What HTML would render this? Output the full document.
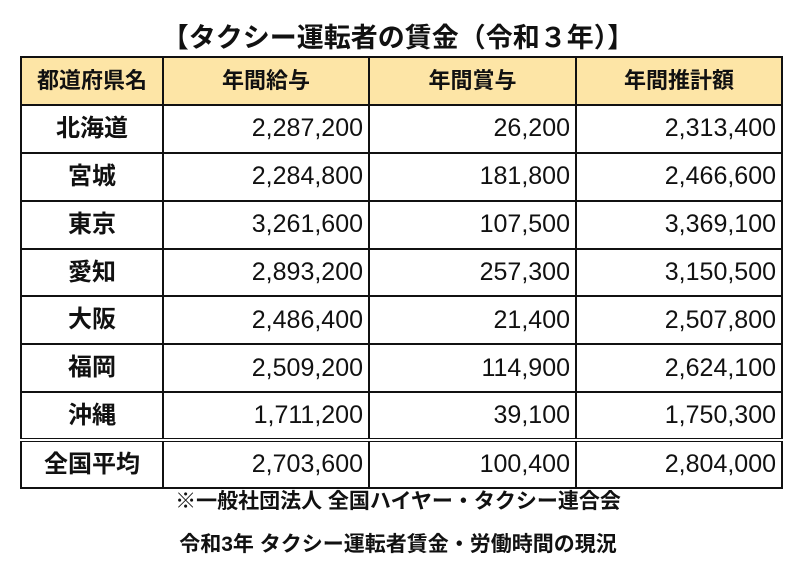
<!DOCTYPE html>
<html><head><meta charset="utf-8"><style>
body{margin:0;width:800px;height:564px;background:#fff;font-family:"Liberation Sans","Noto Sans CJK JP",sans-serif;color:#111;position:relative;overflow:hidden}
.t{position:absolute;left:0;width:800px;text-align:center;font-weight:bold;white-space:nowrap}
table{position:absolute;left:20px;top:56px;border-collapse:collapse;width:761px;height:431px;table-layout:fixed}
tr{height:47.9px}
td{border:2px solid #111;padding:0 5px 0 0;font-size:25px;text-align:right;line-height:1}
td:first-child{text-align:center;font-weight:bold;padding:0;font-size:24px}
tr.h td{background:#fde5a6;text-align:center;font-weight:bold;font-size:22px;padding:0}
tr.last td{border-top:4px double #111}
</style></head><body>
<div class="t" style="top:16px;font-size:27px;left:-2px">【タクシー運転者の賃金（令和３年）】</div>
<table>
<colgroup><col style="width:142px"><col style="width:206px"><col style="width:207px"><col style="width:206px"></colgroup>
<tr class="h"><td>都道府県名</td><td>年間給与</td><td>年間賞与</td><td>年間推計額</td></tr>
<tr><td>北海道</td><td>2,287,200</td><td>26,200</td><td>2,313,400</td></tr>
<tr><td>宮城</td><td>2,284,800</td><td>181,800</td><td>2,466,600</td></tr>
<tr><td>東京</td><td>3,261,600</td><td>107,500</td><td>3,369,100</td></tr>
<tr><td>愛知</td><td>2,893,200</td><td>257,300</td><td>3,150,500</td></tr>
<tr><td>大阪</td><td>2,486,400</td><td>21,400</td><td>2,507,800</td></tr>
<tr><td>福岡</td><td>2,509,200</td><td>114,900</td><td>2,624,100</td></tr>
<tr><td>沖縄</td><td>1,711,200</td><td>39,100</td><td>1,750,300</td></tr>
<tr class="last"><td>全国平均</td><td>2,703,600</td><td>100,400</td><td>2,804,000</td></tr>
</table>
<div class="t" style="top:485px;font-size:21px;left:-2px">※一般社団法人 全国ハイヤー・タクシー連合会</div>
<div class="t" style="top:528px;font-size:21px;left:-2px">令和3年 タクシー運転者賃金・労働時間の現況</div>
</body></html>
